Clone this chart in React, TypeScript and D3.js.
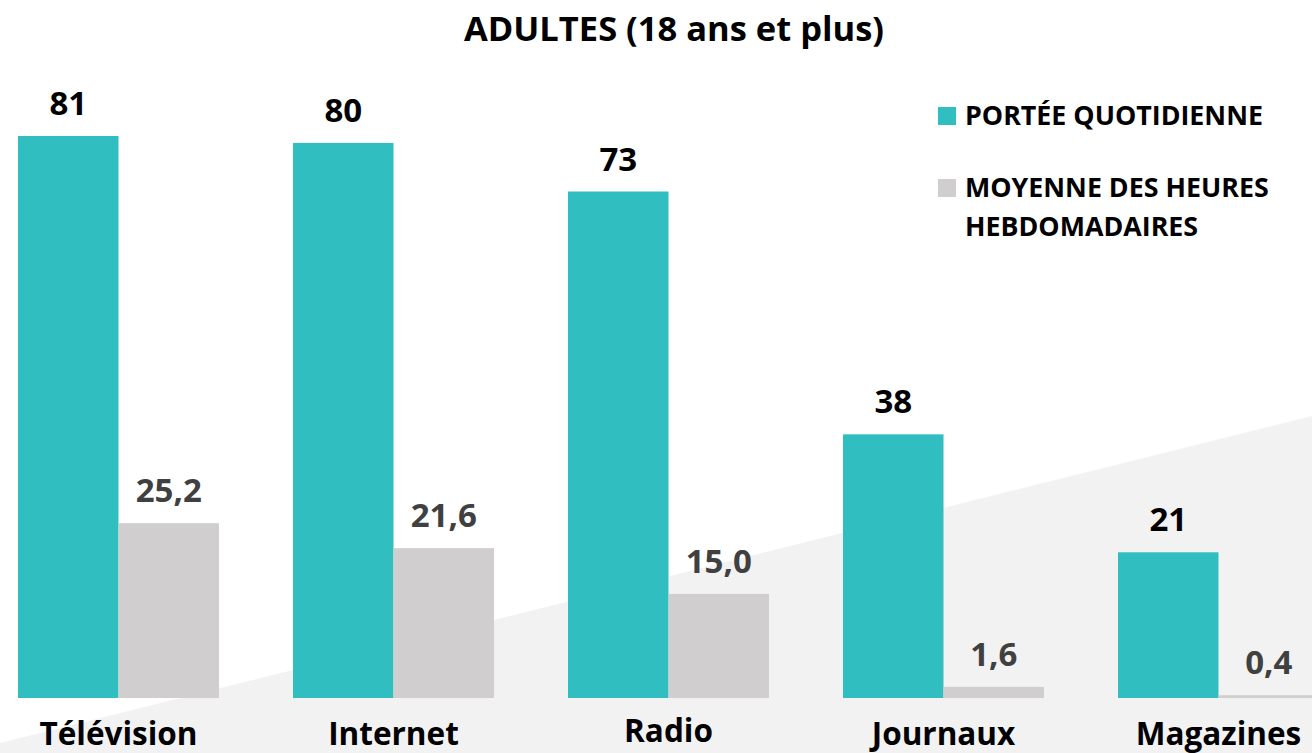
import React from "react";
import * as d3 from "d3";

const title = "ADULTES (18 ans et plus)";
const categories = ["Télévision", "Internet", "Radio", "Journaux", "Magazines"];
const porteeQuotidienne = [81, 80, 73, 38, 21];
const moyenneHeures = [25.2, 21.6, 15.0, 1.6, 0.4];
const seriesKeys = ["portee", "heures"];
const legendLabels = [["PORTÉE QUOTIDIENNE"], ["MOYENNE DES HEURES", "HEBDOMADAIRES"]];

const W = 1312;
const H = 753;
const TEAL = "#31BEC0";
const GREY = "#D0CECF";
const BG = "#F2F2F2";
const FONT = "'Open Sans', 'Noto Sans', sans-serif";

export default function App() {
  const baseY = 698;
  const x = d3
    .scaleBand<string>()
    .domain(categories)
    .range([18, 18 + 4 * 275 + 201])
    .paddingInner(74 / 275)
    .paddingOuter(0);
  const xs = d3.scaleBand<string>().domain(seriesKeys).range([0, x.bandwidth()]).padding(0);
  const y = d3.scaleLinear().domain([0, 81]).range([baseY, 136]);

  const fmt = (v: number) => v.toFixed(1).replace(".", ",");

  return (
    <svg
      width={W}
      height={H}
      style={{ position: "absolute", left: 0, top: 0, display: "block", background: "#fff" }}
      fontFamily={FONT}
    >
      <polygon points={`0,743 ${W},416 ${W},${H} 0,${H}`} fill={BG} />
      <text x={674} y={41} textAnchor="middle" fontSize={34.5} fontWeight={700} fill="#000">
        {title}
      </text>
      {categories.map((c, i) => {
        const gx = x(c)!;
        const vals = [porteeQuotidienne[i], moyenneHeures[i]];
        return (
          <g key={c}>
            {seriesKeys.map((k, j) => {
              const v = vals[j];
              const bx = gx + xs(k)!;
              const bw = xs.bandwidth();
              return (
                <g key={k}>
                  <rect x={bx} y={y(v)} width={bw} height={baseY - y(v)} fill={j === 0 ? TEAL : GREY} />
                  <text
                    x={bx + bw / 2}
                    y={y(v) - 21}
                    textAnchor="middle"
                    fontSize={33}
                    fontWeight={700}
                    fill={j === 0 ? "#000" : "#404040"}
                  >
                    {j === 0 ? String(v) : fmt(v)}
                  </text>
                </g>
              );
            })}
            <text
              x={gx + x.bandwidth() / 2}
              y={c === "Radio" ? 742 : 745}
              textAnchor="middle"
              fontSize={31.5}
              fontWeight={700}
              fill="#000"
            >
              {c}
            </text>
          </g>
        );
      })}
      <g>
        <rect x={938} y={107} width={18} height={18} fill={TEAL} />
        <text x={965} y={125} fontSize={26.8} fontWeight={700} fill="#000">
          {legendLabels[0][0]}
        </text>
        <rect x={938} y={179} width={18} height={18} fill={GREY} />
        {legendLabels[1].map((l, i) => (
          <text key={l} x={965} y={197 + i * 39} fontSize={26.8} fontWeight={700} fill="#000">
            {l}
          </text>
        ))}
      </g>
    </svg>
  );
}
